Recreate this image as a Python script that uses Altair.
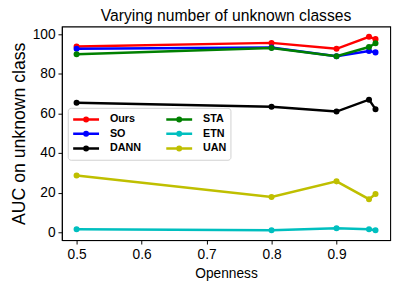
import altair as alt
import pandas as pd

openness = [0.5, 0.8, 0.9, 0.95, 0.96]
ours = [93.9, 95.7, 92.7, 98.8, 97.6]
so = [92.7, 93.4, 89.0, 91.6, 90.9]
dann = [65.4, 63.4, 61.0, 67.0, 62.2]
sta = [90.0, 93.1, 89.0, 93.6, 95.5]
etn = [1.5, 1.0, 2.0, 1.5, 1.0]
uan = [28.7, 17.8, 25.7, 16.7, 19.3]

methods = ["Ours", "SO", "DANN", "STA", "ETN", "UAN"]
values = [ours, so, dann, sta, etn, uan]
palette = ["#ff0000", "#0000ff", "#000000", "#008000", "#00bfbf", "#bfbf00"]

rows = []
for name, vals in zip(methods, values):
    for x, v in zip(openness, vals):
        rows.append({"Openness": x, "AUC": v, "Method": name})
df = pd.DataFrame(rows)

font = "Liberation Sans"
# line with a dot, drawn right of the symbol's own box so the label clears it
sym = "M-1,0H3.4M1.5,0A0.3,0.3 0 1,1 0.9,0A0.3,0.3 0 1,1 1.5,0Z"

chart = alt.Chart(df).mark_line(
    strokeWidth=2.5,
    point=alt.OverlayMarkDef(size=38, filled=True),
).encode(
    x=alt.X("Openness:Q",
            scale=alt.Scale(domain=[0.4774, 0.9826], nice=False, zero=False),
            axis=alt.Axis(values=[0.5, 0.6, 0.7, 0.8, 0.9], format=".1f",
                          title="Openness", titleFontSize=14, titleFontWeight="normal",
                          titlePadding=5, labelPadding=4)),
    y=alt.Y("AUC:Q",
            scale=alt.Scale(domain=[-4.0, 104.0], nice=False, zero=False),
            axis=alt.Axis(values=[0, 20, 40, 60, 80, 100],
                          title="AUC on unknown class", titleFontSize=18,
                          titleFontWeight="normal", titlePadding=4, labelPadding=3)),
    color=alt.Color("Method:N",
                    scale=alt.Scale(domain=methods, range=palette),
                    legend=alt.Legend(orient="none", legendX=6, legendY=83,
                                      columns=2, title=None,
                                      labelFont=font, labelFontSize=11,
                                      labelFontWeight="bold", labelColor="black",
                                      symbolType=sym, symbolSize=144,
                                      symbolStrokeWidth=2.5, labelOffset=24,
                                      strokeColor="#d0d0d0", fillColor="white",
                                      padding=4, cornerRadius=3,
                                      columnPadding=20, rowPadding=0)),
    detail="Method:N",
).properties(
    width=335, height=218,
    title=alt.Title("Varying number of unknown classes", fontSize=16,
                    font=font, fontWeight="normal", anchor="middle", offset=3,
                    color="black"),
    autosize=alt.AutoSizeParams(type="none"),
    padding={"left": 55, "top": 16, "right": 10, "bottom": 46},
).configure_axis(
    labelFont=font, titleFont=font, labelFontSize=14, labelColor="black",
    titleColor="black", grid=False, domainColor="black", tickColor="black",
    tickSize=4,
).configure_view(
    stroke="black", strokeWidth=1.1,
)

chart.save("out.html", embed_options={"renderer": "svg", "actions": False})
